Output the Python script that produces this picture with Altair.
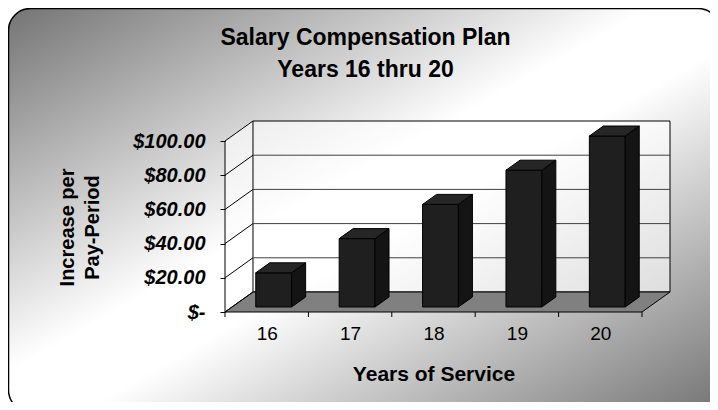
import altair as alt
import pandas as pd

# ---------------- data ----------------
years = ["16", "17", "18", "19", "20"]
increase = [20, 40, 60, 80, 100]
y_tick_values = [0, 20, 40, 60, 80, 100]
title_lines = ["Salary Compensation Plan", "Years 16 thru 20"]
x_title = "Years of Service"
y_title = ["Increase per", "Pay-Period"]

# ---------------- 3D style constants ----------------
DX = 0.3357      # depth shift, in category units
DY = 11.7        # depth shift, in value units
F0, F1 = 0.25, 0.75   # bar depth extent (fraction of floor depth)
HW = 0.215       # half bar width (category units)
VMAX = max(y_tick_values)
N = len(years)
PW, PH = 445, 191
FONT = "Liberation Sans"

xscale = alt.Scale(domain=[0, N + DX], nice=False, zero=False)
yscale = alt.Scale(domain=[0, VMAX + DY], nice=False, zero=False)

label_js = "[" + ",".join(f"'{y}'" for y in years) + "]"
xaxis = alt.Axis(
    values=[i + 0.5 for i in range(N)],
    labelExpr=f"{label_js}[floor(datum.value)]",
    ticks=False, domain=False, grid=False, zindex=1,
    labelFont=FONT, labelFontSize=19, labelColor="black", labelPadding=12,
    labelFlush=False, labelOverlap=False,
    title=x_title, titleFont=FONT, titleFontSize=21, titleFontWeight="bold",
    titleColor="black", titleX=208.5, titleY=68, titleAlign="center",
    titleBaseline="alphabetic",
)
yaxis = alt.Axis(
    values=y_tick_values,
    labelExpr="datum.value == 0 ? '$-' : '$' + format(datum.value, '.2f')",
    tickSize=5, tickColor="black", tickWidth=1, domain=False, grid=False, zindex=1,
    labelFont=FONT, labelFontSize=20, labelFontWeight="bold", labelFontStyle="italic",
    labelColor="black", labelPadding=15, labelFlush=False, labelOverlap=False,
    title=y_title, titleFont=FONT, titleFontSize=20, titleFontWeight="bold",
    titleColor="black", titleAngle=270, titleX=-158, titleY=106,
    titleAlign="center", titleBaseline="middle", titleLineHeight=25,
)


def X(f):
    return alt.X(f, type="quantitative", scale=xscale, axis=xaxis)


def Y(f):
    return alt.Y(f, type="quantitative", scale=yscale, axis=yaxis)


one = pd.DataFrame({"k": [0]})

gradient = alt.LinearGradient(
    gradient="linear",
    stops=[
        alt.GradientStop(color="#747474", offset=0),
        alt.GradientStop(color="#ffffff", offset=0.45),
        alt.GradientStop(color="#ffffff", offset=0.55),
        alt.GradientStop(color="#747474", offset=1),
    ],
    x1=0, y1=0, x2=1, y2=1,
)

bg = alt.Chart(one).mark_rect(
    cornerRadius=22, fill=gradient, stroke="black", strokeWidth=1.5
).encode(x=alt.value(-216.5), x2=alt.value(495), y=alt.value(-112.5), y2=alt.value(291))

# back wall
wall_df = pd.DataFrame({"x": [DX], "x2": [N + DX], "y": [DY], "y2": [VMAX + DY]})
wall = alt.Chart(wall_df).mark_rect(
    fill="white", fillOpacity=0.6, stroke="black", strokeWidth=1
).encode(x=X("x"), x2="x2", y=Y("y"), y2="y2")

# side wall
side_df = pd.DataFrame({"x": [0, DX], "lo": [0, DY], "hi": [VMAX, VMAX + DY]})
side_wall = alt.Chart(side_df).mark_area(fill="white", fillOpacity=0.6).encode(
    x=X("x"), y=Y("hi"), y2="lo"
)

# floor
floor_df = pd.DataFrame({"y": [0, DY], "xlo": [0, DX], "xhi": [N, N + DX]})
floor = alt.Chart(floor_df).mark_area(
    orient="horizontal", fill="#808080", stroke="black", strokeWidth=1
).encode(y=Y("y"), x=X("xlo"), x2="xhi")

# gridlines on back wall
grid_df = pd.DataFrame({"x": DX, "x2": N + DX, "y": [v + DY for v in y_tick_values[1:-1]]})
grid = alt.Chart(grid_df).mark_rule(color="#404040", strokeWidth=1).encode(
    x=X("x"), x2="x2", y=Y("y")
)

# diagonals on side wall
diag_df = pd.DataFrame({"x": 0.0, "x2": DX, "y": y_tick_values,
                        "y2": [v + DY for v in y_tick_values]})
diag = alt.Chart(diag_df).mark_rule(color="black", strokeWidth=1).encode(
    x=X("x"), y=Y("y"), x2="x2", y2="y2"
)

# front value axis line
vline_df = pd.DataFrame({"x": [0.0], "y": [0.0], "y2": [float(VMAX)]})
vline = alt.Chart(vline_df).mark_rule(color="black", strokeWidth=1).encode(
    x=X("x"), y=Y("y"), y2="y2"
)

# category ticks
tick_df = pd.DataFrame({"x": list(range(N + 1))})
xticks = alt.Chart(tick_df).mark_rule(color="black", strokeWidth=1).encode(
    x=X("x"), y=alt.value(PH), y2=alt.value(PH + 5)
)

# bars
front_rows, side_rows, top_rows = [], [], []
for i, (yr, v) in enumerate(zip(years, increase)):
    c = i + 0.5
    front_rows.append({"yr": yr, "x": c - HW + F0 * DX, "x2": c + HW + F0 * DX,
                       "y": F0 * DY, "y2": v + F0 * DY})
    for f in (F0, F1):
        side_rows.append({"yr": yr, "x": c + HW + f * DX, "lo": f * DY, "hi": v + f * DY})
        top_rows.append({"yr": yr, "y": v + f * DY, "xlo": c - HW + f * DX,
                         "xhi": c + HW + f * DX})

front = alt.Chart(pd.DataFrame(front_rows)).mark_rect(
    fill="#1f1f1f", stroke="black", strokeWidth=1
).encode(x=X("x"), x2="x2", y=Y("y"), y2="y2")
side = alt.Chart(pd.DataFrame(side_rows)).mark_area(
    fill="#141414", stroke="black", strokeWidth=1
).encode(x=X("x"), y=Y("hi"), y2="lo", detail="yr:N")
top = alt.Chart(pd.DataFrame(top_rows)).mark_area(
    orient="horizontal", fill="#262626", stroke="black", strokeWidth=1
).encode(y=Y("y"), x=X("xlo"), x2="xhi", detail="yr:N")

title = alt.Chart(one).mark_text(
    text=title_lines, font=FONT, fontSize=23, fontWeight="bold", lineHeight=32,
    align="center", baseline="alphabetic", color="black"
).encode(x=alt.value(140.5), y=alt.value(-76))

chart = alt.layer(
    bg, side_wall, wall, floor, grid, diag, vline, xticks, front, side, top, title
).properties(
    width=PW, height=PH,
    padding={"left": 217, "top": 113, "right": 40, "bottom": 90},
    autosize="none",
).configure_view(stroke=None)

chart.save("out.html", embed_options={"renderer": "svg", "actions": False})
